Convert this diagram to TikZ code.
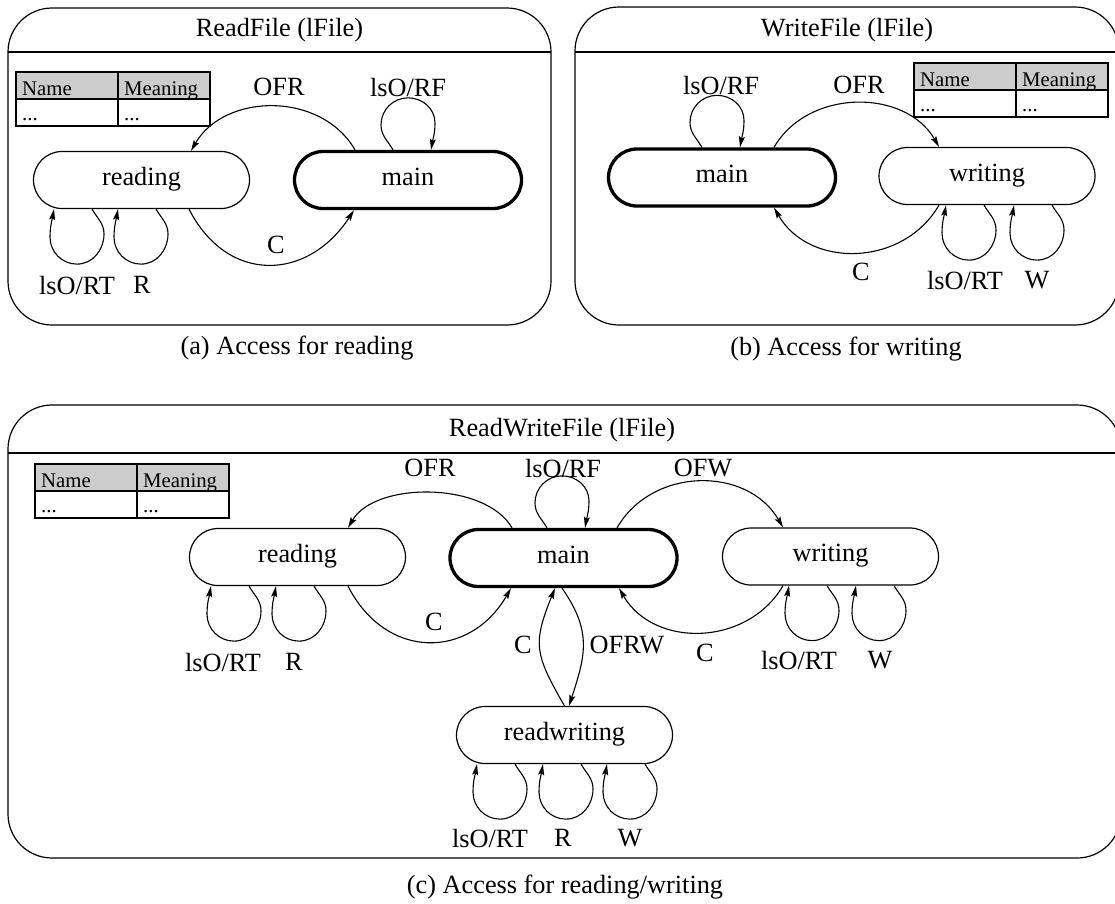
\documentclass[tikz,border=0pt]{standalone}
\usepackage{fontspec}
\setmainfont{Liberation Serif}
\usetikzlibrary{arrows.meta,calc}

\newcommand\bigtext{\fontsize{26.3}{30}\selectfont}
\newcommand\tabtext{\fontsize{20.8}{24}\selectfont}

\tikzset{
  panel/.style={draw, line width=1.2pt, rounded corners=44pt},
  headline/.style={line width=1.2pt},
  state/.style={draw, line width=1.2pt, rounded corners=28.5pt,
    minimum width=216pt, minimum height=57pt, inner sep=0pt,
    text height=18pt, text depth=8pt, font=\bigtext},
  mainstate/.style={state, line width=3.3pt, minimum width=227pt},
  arr/.style={-{Stealth[length=11pt,width=6pt,inset=2pt]}, line width=1.1pt},
  lbl/.style={inner sep=0pt, font=\bigtext},
  celltext/.style={anchor=base west, inner sep=0pt, font=\tabtext},
  tabline/.style={line width=1.1pt},
}
\definecolor{headgray}{gray}{0.80}

% legend table, top-left corner at (#2,#3)
\newcommand\infotable[3]{%
  \begin{scope}[shift={(#2,#3)}]
    \fill[headgray] (0,0) rectangle (194,-27);
    \draw[tabline] (0,0) rectangle (194,-54);
    \draw[tabline] (0,-27) -- (194,-27);
    \draw[tabline] (102,0) -- (102,-54);
    \node[celltext] (#1-name) at (6,-23) {Name};
    \node[celltext] (#1-meaning) at (108,-23) {Meaning};
    \node[celltext] (#1-v1) at (6,-48) {...};
    \node[celltext] (#1-v2) at (108,-48) {...};
  \end{scope}}

% self loop hanging below a state; #1 = arrow end on the state border
\newcommand\loopbelow[1]{%
  \draw[arr, shift={#1}] (38,0) to[out=-60,in=90] (50,-25)
    to[out=-90,in=0] (23,-55) to[out=180,in=-90] (-4,-28)
    to[out=90,in=-100] (0,0);}
% self loop standing on top of a state; #1 = arrow end on the state border
\newcommand\loopabove[1]{%
  \draw[arr, shift={#1}] (-38,0) to[out=120,in=-90] (-50,25)
    to[out=90,in=180] (-23,52) to[out=0,in=90] (4,27)
    to[out=-90,in=80] (0,0);}

\begin{document}
\begin{tikzpicture}[x=1pt,y=1pt]
\clip (0,0) rectangle (1115,-903);

% ---------------- (a) ReadFile ----------------
\draw[panel] (8,-8) rectangle (551,-325);
\draw[headline] (8,-52) -- (551,-52);
\node[lbl] (titleA) at (279.5,-30) {ReadFile (lFile)};
\infotable{tabA}{16}{-72}
\node[state] (rA) at (141.5,-180) {reading};
\node[mainstate] (mA) at (408,-180) {main};
\draw[arr] ($(mA.north)+(-53,0)$) to[out=120,in=60,looseness=1.05] ($(rA.north)+(49.5,0)$);
\draw[arr] ($(rA.south)+(47.5,0)$) to[out=-63,in=-123,looseness=1.31] ($(mA.south)+(-54,0)$);
\loopabove{($(mA.north)+(23,0)$)}
\loopbelow{($(rA.south)+(-87.5,0)$)}
\loopbelow{($(rA.south)+(-23.5,0)$)}
\node[lbl] (ofrA) at (279,-87) {OFR};
\node[lbl] (rfA) at (408,-87) {lsO/RF};
\node[lbl] (cA) at (276,-245) {C};
\node[lbl] (rtA) at (77,-285) {lsO/RT};
\node[lbl] (rrA) at (142,-285) {R};
\node[lbl] (capA) at (297,-348) {(a) Access for reading};

% ---------------- (b) WriteFile ----------------
\draw[panel] (575,-7) rectangle (1119,-325);
\draw[headline] (575,-52) -- (1119,-52);
\node[lbl] (titleB) at (847,-30) {WriteFile (lFile)};
\infotable{tabB}{914}{-63}
\node[mainstate] (mB) at (722,-177.5) {main};
\node[state] (wB) at (987,-176) {writing};
\draw[arr] ($(mB.north)+(52,0)$) to[out=60,in=120,looseness=1.05] ($(wB.north)+(-48,0)$);
\draw[arr] ($(wB.south)+(-48,0)$) to[out=-120,in=-60,looseness=1.1] ($(mB.south)+(52,0)$);
\loopabove{($(mB.north)+(18,0)$)}
\loopbelow{($(wB.south)+(-41,0)$)}
\loopbelow{($(wB.south)+(27,0)$)}
\node[lbl] (rfB) at (721,-85) {lsO/RF};
\node[lbl] (ofrB) at (859,-85) {OFR};
\node[lbl] (cB) at (861,-272) {C};
\node[lbl] (rtB) at (965,-280) {lsO/RT};
\node[lbl] (wwB) at (1037,-280) {W};
\node[lbl] (capB) at (846,-349) {(b) Access for writing};

% ---------------- (c) ReadWriteFile ----------------
\draw[panel] (8,-405) rectangle (1121,-858);
\draw[headline] (8,-453) -- (1121,-453);
\node[lbl] (titleC) at (562,-430) {ReadWriteFile (lFile)};
\infotable{tabC}{35}{-464}
\node[state] (rC) at (297.5,-557) {reading};
\node[mainstate] (mC) at (563.5,-558) {main};
\node[state] (wC) at (830.5,-556.5) {writing};
\node[state] (rwC) at (564.5,-735) {readwriting};
\draw[arr] ($(mC.north)+(-51.5,0)$) to[out=120,in=60,looseness=0.84] ($(rC.north)+(50.5,0)$);
\draw[arr] ($(rC.south)+(50.5,0)$) to[out=-63,in=-120,looseness=1.3] ($(mC.south)+(-52.5,0)$);
\draw[arr] ($(mC.north)+(53.5,0)$) to[out=60,in=120,looseness=1.09] ($(wC.north)+(-47.5,0)$);
\draw[arr] ($(wC.south)+(-47.5,0)$) to[out=-120,in=-60,looseness=1.09] ($(mC.south)+(55.5,0)$);
\draw[arr] (rwC.north) to[out=120,in=-112,looseness=1.3] ($(mC.south)+(-8.5,0)$);
\draw[arr] ($(mC.south)+(-1.5,0)$) to[out=-55,in=72,looseness=1.15] ($(rwC.north)+(4.5,0)$);
\loopabove{($(mC.north)+(21.5,0)$)}
\loopbelow{($(rC.south)+(-86.5,0)$)}
\loopbelow{($(rC.south)+(-21.5,0)$)}
\loopbelow{($(wC.south)+(-41.5,0)$)}
\loopbelow{($(wC.south)+(25.5,0)$)}
\loopbelow{($(rwC.south)+(-87.5,0)$)}
\loopbelow{($(rwC.south)+(-21.5,0)$)}
\loopbelow{($(rwC.south)+(42.5,0)$)}
\node[lbl] (ofrC) at (430,-468) {OFR};
\node[lbl] (rfC) at (563,-468) {lsO/RF};
\node[lbl] (ofwC) at (703,-468) {OFW};
\node[lbl] (cC1) at (434,-622) {C};
\node[lbl] (cC2) at (523,-645) {C};
\node[lbl] (ofrwC) at (627,-645) {OFRW};
\node[lbl] (cC3) at (705,-653) {C};
\node[lbl] (rtC1) at (223,-662) {lsO/RT};
\node[lbl] (rrC1) at (294,-662) {R};
\node[lbl] (rtC2) at (799,-660) {lsO/RT};
\node[lbl] (wwC2) at (880,-660) {W};
\node[lbl] (rtC3) at (490,-838) {lsO/RT};
\node[lbl] (rrC3) at (563,-838) {R};
\node[lbl] (wwC3) at (630,-838) {W};
\node[lbl] (capC) at (565,-887) {(c) Access for reading/writing};
\end{tikzpicture}
\end{document}
